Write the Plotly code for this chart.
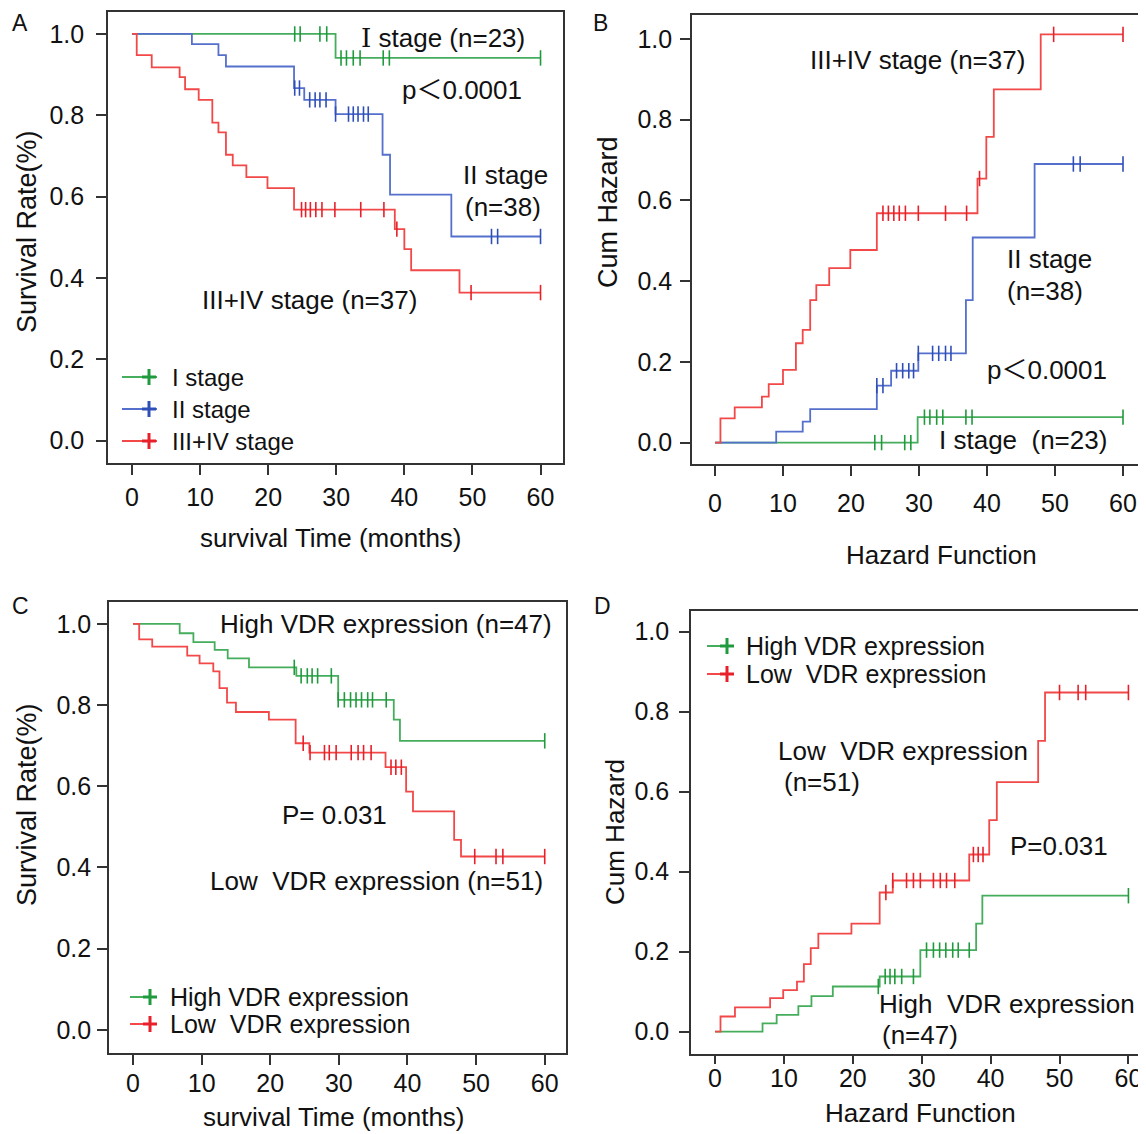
import plotly.graph_objects as go

W, H = 1146, 1134
OFF = 8  # page body margin of the browser
FW, FH = W - OFF, H - OFF

# ---------------- data ----------------
x_ticks = [0, 10, 20, 30, 40, 50, 60]
y_ticks = [0.0, 0.2, 0.4, 0.6, 0.8, 1.0]
y_tick_labels = ["0.0", "0.2", "0.4", "0.6", "0.8", "1.0"]

# Panel A: survival by stage
a_s1_times = [29.9]
a_s1_surv = [0.941]
a_s1_cens = [23.9, 24.7, 27.6, 28.6, 30.7, 31.5, 32.5, 33.5, 36.9, 37.8, 60]

a_s2_times = [8.8, 12.7, 13.8, 23.8, 25.3, 29.9, 36.8, 37.9, 46.9]
a_s2_surv = [0.975, 0.948, 0.920, 0.867, 0.838, 0.803, 0.703, 0.605, 0.502]
a_s2_cens = [23.9, 24.6, 26.1, 26.9, 27.6, 28.5, 29.9, 31.8, 32.5, 33.2, 34.0, 34.7, 52.8, 53.7, 60]

a_s34_times = [0.7, 2.9, 7.0, 7.8, 9.8, 11.8, 12.7, 13.8, 14.8, 16.8, 19.9, 23.8, 38.6, 40.0, 41.0, 48.1]
a_s34_surv = [0.948, 0.918, 0.894, 0.864, 0.838, 0.782, 0.758, 0.703, 0.677, 0.648, 0.621, 0.568,
              0.520, 0.471, 0.419, 0.364]
a_s34_cens = [24.9, 25.5, 26.2, 27.0, 27.9, 29.8, 33.6, 37.0, 38.9, 49.8, 60]

# Panel B: cumulative hazard by stage
b_s1_times = [29.8]
b_s1_haz = [0.063]
b_s1_cens = [23.5, 24.5, 27.9, 28.8, 30.8, 31.6, 32.6, 33.5, 36.9, 37.8, 60]

b_s2_times = [9.0, 12.9, 14.0, 23.8, 25.9, 29.9, 36.9, 37.9, 47.0]
b_s2_haz = [0.027, 0.052, 0.083, 0.141, 0.178, 0.221, 0.353, 0.508, 0.690]
b_s2_cens = [23.8, 24.7, 26.7, 27.6, 28.5, 29.2, 29.9, 32.0, 32.9, 33.9, 34.7, 52.7, 53.7, 60]

b_s34_times = [0.8, 2.9, 6.9, 7.9, 10.0, 11.9, 12.9, 14.0, 14.9, 16.8, 19.9, 23.8, 38.6, 39.9, 41.0, 47.9]
b_s34_haz = [0.060, 0.087, 0.114, 0.145, 0.180, 0.246, 0.279, 0.353, 0.390, 0.432, 0.477, 0.568,
             0.654, 0.757, 0.875, 1.011]
b_s34_cens = [24.7, 25.5, 26.3, 27.1, 28.0, 29.9, 33.9, 37.0, 38.9, 49.8, 60]

# Panel C: survival by VDR expression
c_high_times = [6.8, 8.8, 11.9, 13.8, 16.9, 23.8, 29.9, 38.0, 38.9]
c_high_surv = [0.977, 0.955, 0.936, 0.915, 0.893, 0.872, 0.813, 0.764, 0.712]
c_high_cens = [23.5, 24.5, 25.4, 26.1, 26.9, 28.9, 29.9, 30.8, 31.7, 32.5, 33.3, 34.2, 34.9, 36.9, 60]

c_low_times = [0.9, 2.8, 7.9, 9.7, 11.7, 12.6, 13.7, 15.0, 19.8, 23.7, 25.7, 36.8, 39.8, 40.8, 46.8, 47.8]
c_low_surv = [0.962, 0.944, 0.922, 0.903, 0.883, 0.842, 0.806, 0.783, 0.764, 0.706, 0.683, 0.647,
              0.587, 0.538, 0.468, 0.427]
c_low_cens = [24.8, 25.8, 27.9, 28.6, 29.6, 31.8, 32.8, 33.6, 34.7, 37.6, 38.3, 39.1, 49.8, 52.9, 53.9, 60]

# Panel D: cumulative hazard by VDR expression
d_high_times = [6.9, 8.95, 12.1, 14.0, 17.1, 23.9, 29.8, 37.9, 38.8]
d_high_haz = [0.021, 0.042, 0.064, 0.089, 0.113, 0.138, 0.204, 0.270, 0.340]
d_high_cens = [23.7, 24.7, 25.4, 26.1, 27.1, 28.8, 30.7, 31.7, 32.6, 33.5, 34.5, 35.3, 36.9, 60]

d_low_times = [0.8, 2.9, 8.0, 9.9, 11.9, 12.9, 13.9, 15.0, 19.8, 23.9, 25.8, 36.9, 39.8, 40.9, 46.9, 47.9]
d_low_haz = [0.038, 0.061, 0.084, 0.104, 0.125, 0.169, 0.209, 0.245, 0.270, 0.348, 0.378, 0.443,
             0.529, 0.624, 0.727, 0.848]
d_low_cens = [24.8, 25.8, 27.8, 28.8, 29.8, 31.7, 32.7, 33.6, 34.8, 37.5, 38.2, 38.9, 50.0, 52.7, 53.8, 60]

legend_a = ["I stage", "II stage", "III+IV stage"]
legend_cd = ["High VDR expression", "Low \u00a0VDR expression"]

# ---------------- styling ----------------
GREEN, GREEN_M = "#45ad5c", "#1f9a3c"
BLUE, BLUE_M = "#5470cc", "#2f4fb8"
RED, RED_M = "#f24848", "#e8202a"
FONT = "Liberation Sans, Arial, Noto Sans CJK SC, sans-serif"
AXC = "#333333"

fig = go.Figure()


def px_x(p):
    return (p - OFF) / FW


def px_y(p):
    return 1 - (p - OFF) / FH


def level(t, times, vals, start):
    v = start
    for ti, vi in zip(times, vals):
        if ti <= t:
            v = vi
    return v


def add_curve(name, times, vals, cens, start, color, mcolor, xa, ya):
    xs = [0] + list(times) + [60]
    ys = [start] + list(vals) + [vals[-1]]
    fig.add_trace(go.Scatter(x=xs, y=ys, mode="lines", name=name, line=dict(color=color, width=1.8, shape="hv"),
                             xaxis=xa, yaxis=ya, showlegend=False, hoverinfo="skip"))
    cy = [level(t, times, vals, start) for t in cens]
    fig.add_trace(go.Scatter(x=cens, y=cy, mode="markers", name=name + " censored",
                             marker=dict(symbol="line-ns", size=11, line=dict(color=mcolor, width=1.6)),
                             xaxis=xa, yaxis=ya, showlegend=False, hoverinfo="skip"))


# Panel A
add_curve("I stage", a_s1_times, a_s1_surv, a_s1_cens, 1.0, GREEN, GREEN_M, "x", "y")
add_curve("II stage", a_s2_times, a_s2_surv, a_s2_cens, 1.0, BLUE, BLUE_M, "x", "y")
add_curve("III+IV stage", a_s34_times, a_s34_surv, a_s34_cens, 1.0, RED, RED_M, "x", "y")
# Panel B
add_curve("I stage", b_s1_times, b_s1_haz, b_s1_cens, 0.0, GREEN, GREEN_M, "x2", "y2")
add_curve("II stage", b_s2_times, b_s2_haz, b_s2_cens, 0.0, BLUE, BLUE_M, "x2", "y2")
add_curve("III+IV stage", b_s34_times, b_s34_haz, b_s34_cens, 0.0, RED, RED_M, "x2", "y2")
# Panel C
add_curve("High VDR expression", c_high_times, c_high_surv, c_high_cens, 1.0, GREEN, GREEN_M, "x3", "y3")
add_curve("Low VDR expression", c_low_times, c_low_surv, c_low_cens, 1.0, RED, RED_M, "x3", "y3")
# Panel D
add_curve("High VDR expression", d_high_times, d_high_haz, d_high_cens, 0.0, GREEN, GREEN_M, "x4", "y4")
add_curve("Low VDR expression", d_low_times, d_low_haz, d_low_cens, 0.0, RED, RED_M, "x4", "y4")


def xax(d0, d1, rng, anchor, ticklen=10, standoff=0, mirror=True):
    return dict(domain=[px_x(d0), px_x(d1)], range=rng, anchor=anchor, showgrid=False, zeroline=False,
                showline=True, linecolor=AXC, linewidth=1.6, mirror=mirror, ticks="outside", ticklen=ticklen,
                tickwidth=1.6, tickcolor=AXC, tickvals=x_ticks, ticktext=[str(v) for v in x_ticks],
                tickfont=dict(size=25, color="#111"), ticklabelstandoff=standoff, fixedrange=True)


def yax(top, bottom, rng, anchor, standoff=0, mirror=True):
    return dict(domain=[px_y(bottom), px_y(top)], range=rng, anchor=anchor, showgrid=False, zeroline=False,
                showline=True, linecolor=AXC, linewidth=1.6, mirror=mirror, ticks="outside", ticklen=10,
                tickwidth=1.6, tickcolor=AXC, tickvals=y_ticks, ticktext=y_tick_labels,
                tickfont=dict(size=25, color="#111"), ticklabelstandoff=standoff, fixedrange=True)


annotations = []
shapes = []


def ann(text, x, y, xanchor="left", size=25, angle=0, yanchor="middle"):
    annotations.append(dict(text=text, x=px_x(x), y=px_y(y), xref="paper", yref="paper",
                            xanchor=xanchor, yanchor=yanchor, showarrow=False, textangle=angle,
                            font=dict(size=size, color="#111", family=FONT)))


def legend_entry(text, x_line0, x_line1, x_cross, x_text, y, color, mcolor, size):
    shapes.append(dict(type="line", xref="paper", yref="paper", x0=px_x(x_line0), x1=px_x(x_line1),
                       y0=px_y(y), y1=px_y(y), line=dict(color=color, width=2)))
    shapes.append(dict(type="line", xref="paper", yref="paper", x0=px_x(x_cross - 7), x1=px_x(x_cross + 7),
                       y0=px_y(y), y1=px_y(y), line=dict(color=mcolor, width=3)))
    shapes.append(dict(type="line", xref="paper", yref="paper", x0=px_x(x_cross), x1=px_x(x_cross),
                       y0=px_y(y - 8), y1=px_y(y + 8), line=dict(color=mcolor, width=3)))
    ann(text, x_text, y, "left", size)


# panel letters
ann("A", 10, 8, size=23, yanchor="top")
ann("B", 591, 8, size=23, yanchor="top")
ann("C", 10, 591, size=23, yanchor="top")
ann("D", 592, 591, size=23, yanchor="top")

# axis titles
ann("survival Time (months)", 331, 538, "center", 26)
ann("Survival Rate(%)", 27, 232, "center", 27, -90)
ann("Hazard Function", 941, 555, "center", 26)
ann("Cum Hazard", 608, 212, "center", 27, -90)
ann("survival Time (months)", 334, 1117, "center", 26)
ann("Survival Rate(%)", 27, 805, "center", 27, -90)
ann("Hazard Function", 920, 1113, "center", 26)
ann("Cum Hazard", 615, 832, "center", 26, -90)

# Panel A texts
ann("<span style=\"font-family:'DejaVu Serif'\">\u2160</span> stage (n=23)", 359, 38, size=26)
ann("p\uff1c0.0001", 400, 90, size=26)
ann("II stage", 461, 175, size=26)
ann("(n=38)", 463, 207, size=26)
ann("III+IV stage (n=37)", 200, 300, size=26)
# Panel B texts
ann("III+IV stage (n=37)", 808, 60, size=26)
ann("II stage", 1005, 259, size=26)
ann("(n=38)", 1005, 291, size=26)
ann("p\uff1c0.0001", 985, 370, size=26)
ann("I stage \u00a0(n=23)", 937, 440, size=26)
# Panel C texts
ann("High VDR expression (n=47)", 218, 624, size=26)
ann("P= 0.031", 280, 815, size=26)
ann("Low \u00a0VDR expression (n=51)", 208, 881, size=26)
# Panel D texts
ann("Low \u00a0VDR expression", 776, 751, size=26)
ann("(n=51)", 782, 782, size=26)
ann("P=0.031", 1008, 846, size=26)
ann("High \u00a0VDR expression", 877, 1004, size=26)
ann("(n=47)", 880, 1035, size=26)

# legends (drawn by hand for exact spacing)
legend_entry(legend_a[0], 122, 157, 149, 170, 377, GREEN, GREEN_M, 24)
legend_entry(legend_a[1], 122, 157, 149, 170, 409, BLUE, BLUE_M, 24)
legend_entry(legend_a[2], 122, 157, 149, 170, 441, RED, RED_M, 24)
legend_entry(legend_cd[0], 130, 157, 150, 168, 997, GREEN, GREEN_M, 25)
legend_entry(legend_cd[1], 130, 157, 150, 168, 1024, RED, RED_M, 25)
legend_entry(legend_cd[0], 707, 733, 727, 744, 646, GREEN, GREEN_M, 25)
legend_entry(legend_cd[1], 707, 733, 727, 744, 674, RED, RED_M, 25)

fig.update_layout(
    width=FW, height=FH, margin=dict(l=0, r=0, t=0, b=0),
    paper_bgcolor="white", plot_bgcolor="white",
    font=dict(family=FONT, color="#111"),
    showlegend=False,
    xaxis=xax(108, 563, [-3.52, 63.3], "y", 10, 1),
    yaxis=yax(12, 463, [-0.055, 1.054], "x", 7),
    xaxis2=xax(692, 1143, [-3.38, 62.94], "y2", 10, 6),
    yaxis2=yax(15, 464, [-0.053, 1.059], "x2", 3),
    xaxis3=xax(109, 566, [-3.5, 63.1], "y3", 10, -3),
    yaxis3=yax(602, 1053, [-0.057, 1.054], "x3", 1),
    xaxis4=xax(691, 1146, [-3.48, 62.55], "y4", 8, -7),
    yaxis4=yax(610.5, 1053.7, [-0.055, 1.053], "x4", 5, mirror=False),
    annotations=annotations,
    shapes=shapes,
)

fig.write_html("out.html")
